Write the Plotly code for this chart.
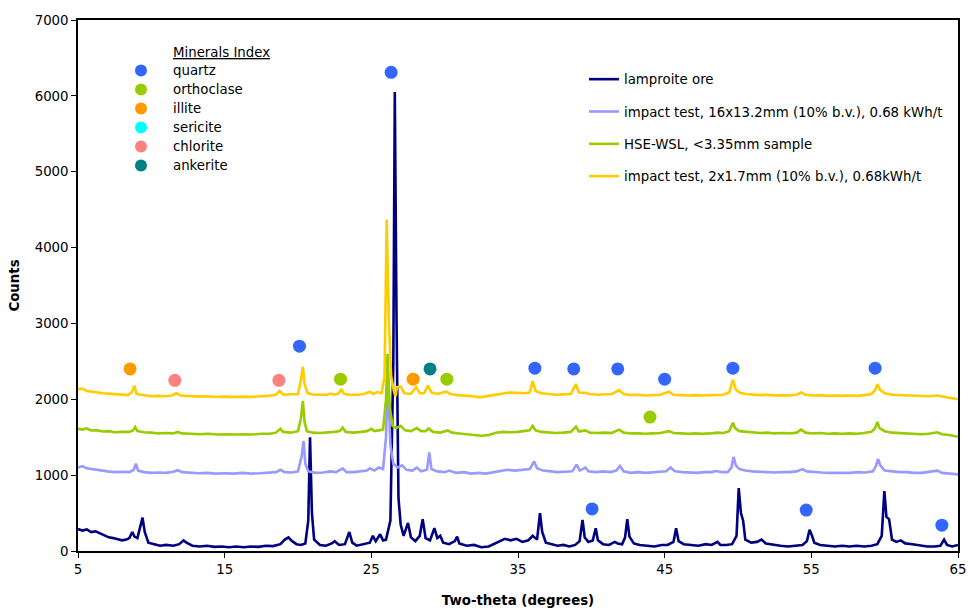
import plotly.graph_objects as go

# ---------------- data ----------------
LAMPROITE_ORE = [
    (5.0, 290), (5.3, 270), (5.6, 285), (5.9, 250), (6.2, 260), (6.5, 230), (6.8, 200), (7.1, 180),
    (7.4, 170), (7.7, 150), (8.0, 140), (8.3, 150), (8.5, 170), (8.7, 250), (8.85, 190), (9.05, 170),
    (9.3, 380), (9.4, 440), (9.55, 250), (9.8, 110), (10.2, 90), (10.6, 70), (11.0, 80), (11.5, 70),
    (11.9, 90), (12.2, 140), (12.4, 110), (12.8, 70), (13.3, 60), (13.8, 70), (14.3, 55), (14.8, 60),
    (15.3, 50), (15.8, 60), (16.3, 50), (16.8, 60), (17.3, 55), (17.8, 70), (18.3, 65), (18.8, 90),
    (19.1, 150), (19.35, 180), (19.6, 130), (19.9, 90), (20.2, 80), (20.5, 100), (20.7, 400), (20.82, 1500),
    (20.95, 500), (21.1, 150), (21.5, 80), (21.9, 70), (22.3, 100), (22.5, 130), (22.8, 80), (23.2, 90),
    (23.5, 250), (23.7, 110), (24.0, 70), (24.5, 90), (24.9, 110), (25.1, 200), (25.3, 130), (25.6, 220),
    (25.8, 140), (26.0, 150), (26.3, 400), (26.5, 2500), (26.6, 6050), (26.72, 3000), (26.85, 700), (27.0, 350),
    (27.2, 200), (27.5, 370), (27.7, 180), (28.0, 130), (28.3, 200), (28.5, 420), (28.7, 170), (29.0, 140),
    (29.3, 300), (29.5, 170), (29.7, 200), (29.9, 110), (30.3, 90), (30.7, 130), (30.85, 190), (31.0, 100),
    (31.5, 70), (32.0, 80), (32.5, 50), (33.0, 60), (33.5, 110), (33.8, 130), (34.1, 160), (34.5, 140),
    (34.9, 160), (35.3, 120), (35.7, 140), (36.0, 200), (36.3, 150), (36.5, 500), (36.65, 250), (36.9, 110),
    (37.3, 90), (37.7, 70), (38.1, 80), (38.5, 60), (38.9, 80), (39.2, 130), (39.4, 410), (39.55, 180),
    (39.8, 120), (40.1, 140), (40.3, 300), (40.45, 140), (40.8, 90), (41.2, 80), (41.6, 120), (41.8, 100),
    (42.1, 90), (42.3, 180), (42.45, 420), (42.6, 190), (42.9, 100), (43.3, 80), (43.8, 70), (44.3, 60),
    (44.8, 80), (45.2, 80), (45.6, 120), (45.78, 300), (45.95, 130), (46.3, 90), (46.8, 80), (47.3, 70),
    (47.8, 90), (48.2, 80), (48.6, 120), (48.8, 80), (49.2, 80), (49.6, 90), (49.9, 200), (50.05, 830),
    (50.2, 500), (50.35, 400), (50.5, 150), (50.9, 110), (51.3, 120), (51.6, 150), (51.9, 100), (52.4, 80),
    (52.9, 70), (53.4, 60), (53.9, 70), (54.4, 80), (54.7, 130), (54.88, 280), (55.05, 200), (55.2, 110),
    (55.6, 80), (56.1, 70), (56.6, 60), (57.1, 70), (57.6, 60), (58.1, 70), (58.6, 60), (59.1, 70),
    (59.5, 90), (59.8, 200), (59.98, 790), (60.12, 450), (60.3, 420), (60.5, 150), (60.8, 120), (61.1, 140),
    (61.4, 100), (61.9, 90), (62.4, 70), (62.9, 60), (63.4, 60), (63.8, 70), (64.05, 150), (64.25, 80),
    (64.6, 60), (65.0, 80),
]

IMPACT_16MM = [
    (5.0, 1100), (5.3, 1120), (5.6, 1090), (5.9, 1080), (6.2, 1070), (6.6, 1060), (7.0, 1050), (7.5, 1040),
    (8.0, 1045), (8.5, 1040), (8.8, 1070), (8.95, 1150), (9.1, 1060), (9.5, 1040), (10.0, 1030), (10.5, 1035),
    (11.0, 1030), (11.5, 1045), (11.8, 1065), (12.1, 1040), (12.6, 1030), (13.2, 1025), (13.8, 1030), (14.4, 1020),
    (15.0, 1025), (15.6, 1020), (16.2, 1030), (16.8, 1020), (17.4, 1025), (18.0, 1030), (18.5, 1040), (18.8, 1070),
    (19.1, 1040), (19.6, 1035), (20.0, 1050), (20.25, 1250), (20.38, 1450), (20.5, 1150), (20.7, 1050), (21.2, 1030),
    (21.7, 1035), (22.2, 1050), (22.6, 1040), (23.05, 1090), (23.3, 1040), (23.8, 1040), (24.3, 1050), (24.7, 1060),
    (24.9, 1090), (25.2, 1060), (25.5, 1100), (25.8, 1080), (26.0, 1500), (26.12, 2300), (26.3, 1400), (26.5, 1150),
    (26.8, 1100), (27.1, 1130), (27.4, 1070), (27.8, 1060), (28.1, 1100), (28.4, 1050), (28.8, 1070), (28.95, 1300),
    (29.1, 1080), (29.5, 1050), (30.0, 1040), (30.3, 1060), (30.8, 1030), (31.3, 1040), (31.8, 1020), (32.3, 1030),
    (32.8, 1020), (33.3, 1040), (33.8, 1060), (34.3, 1070), (34.8, 1060), (35.3, 1070), (35.8, 1080), (36.1, 1180),
    (36.3, 1090), (36.7, 1060), (37.2, 1050), (37.7, 1040), (38.2, 1045), (38.7, 1050), (39.0, 1140), (39.2, 1060),
    (39.6, 1100), (39.8, 1050), (40.3, 1040), (40.8, 1050), (41.3, 1040), (41.7, 1060), (41.95, 1120), (42.2, 1050),
    (42.7, 1030), (43.2, 1040), (43.7, 1030), (44.2, 1035), (44.7, 1040), (45.1, 1050), (45.4, 1100), (45.7, 1050),
    (46.2, 1040), (46.7, 1035), (47.2, 1030), (47.7, 1040), (48.2, 1040), (48.5, 1055), (48.9, 1040), (49.3, 1040),
    (49.55, 1100), (49.7, 1240), (49.85, 1130), (50.1, 1080), (50.5, 1060), (51.0, 1050), (51.5, 1045), (52.0, 1040),
    (52.5, 1035), (53.0, 1040), (53.5, 1040), (54.0, 1050), (54.4, 1080), (54.7, 1050), (55.2, 1040), (55.7, 1035),
    (56.2, 1030), (56.7, 1030), (57.2, 1035), (57.7, 1030), (58.2, 1040), (58.7, 1035), (59.2, 1050), (59.4, 1120),
    (59.55, 1215), (59.7, 1130), (60.0, 1060), (60.5, 1050), (61.0, 1040), (61.5, 1040), (62.0, 1030), (62.5, 1030),
    (63.0, 1040), (63.6, 1060), (63.9, 1030), (64.4, 1020), (65.0, 1010),
]

HSE_WSL = [
    (5.0, 1610), (5.3, 1600), (5.6, 1615), (5.9, 1590), (6.3, 1590), (6.7, 1575), (7.1, 1580), (7.5, 1565),
    (8.0, 1570), (8.5, 1570), (8.75, 1590), (8.9, 1635), (9.05, 1580), (9.5, 1565), (10.0, 1560), (10.5, 1550),
    (11.0, 1555), (11.5, 1550), (11.8, 1570), (12.1, 1550), (12.7, 1545), (13.3, 1540), (13.9, 1545), (14.5, 1535),
    (15.1, 1540), (15.7, 1535), (16.3, 1540), (16.9, 1535), (17.5, 1545), (18.1, 1545), (18.5, 1560), (18.8, 1610),
    (19.0, 1570), (19.5, 1560), (20.0, 1580), (20.2, 1750), (20.33, 1980), (20.45, 1700), (20.6, 1580), (21.0, 1560),
    (21.5, 1555), (22.0, 1560), (22.5, 1570), (22.85, 1580), (23.05, 1625), (23.25, 1570), (23.8, 1560), (24.3, 1570),
    (24.7, 1580), (25.0, 1610), (25.2, 1580), (25.5, 1590), (25.8, 1600), (26.0, 2000), (26.1, 2600), (26.25, 1900),
    (26.45, 1650), (26.7, 1620), (27.0, 1650), (27.3, 1590), (27.7, 1580), (28.1, 1620), (28.4, 1580), (28.7, 1580),
    (28.9, 1615), (29.2, 1570), (29.7, 1560), (30.2, 1590), (30.5, 1560), (31.0, 1550), (31.5, 1540), (32.0, 1530),
    (32.5, 1520), (33.0, 1530), (33.5, 1560), (34.0, 1570), (34.5, 1565), (35.0, 1570), (35.5, 1580), (35.8, 1590),
    (36.0, 1650), (36.2, 1590), (36.6, 1570), (37.1, 1560), (37.6, 1555), (38.1, 1560), (38.6, 1570), (38.95, 1640),
    (39.15, 1575), (39.6, 1590), (39.9, 1560), (40.4, 1555), (40.9, 1560), (41.4, 1555), (41.9, 1600), (42.2, 1560),
    (42.7, 1550), (43.2, 1550), (43.7, 1545), (44.2, 1550), (44.7, 1555), (45.3, 1580), (45.6, 1555), (46.1, 1550),
    (46.6, 1545), (47.1, 1550), (47.6, 1545), (48.1, 1550), (48.6, 1560), (49.0, 1555), (49.4, 1580), (49.65, 1690),
    (49.8, 1620), (50.1, 1580), (50.5, 1570), (51.0, 1560), (51.5, 1555), (52.0, 1560), (52.5, 1550), (53.0, 1555),
    (53.5, 1550), (54.0, 1560), (54.3, 1600), (54.6, 1560), (55.1, 1550), (55.6, 1555), (56.1, 1545), (56.6, 1550),
    (57.1, 1545), (57.6, 1550), (58.1, 1545), (58.6, 1555), (59.1, 1570), (59.35, 1620), (59.5, 1700), (59.65, 1620),
    (60.0, 1580), (60.5, 1560), (61.0, 1555), (61.5, 1550), (62.0, 1545), (62.5, 1540), (63.0, 1545), (63.6, 1565),
    (63.9, 1540), (64.4, 1530), (65.0, 1505),
]

IMPACT_2MM = [
    (5.0, 2130), (5.3, 2140), (5.6, 2110), (5.9, 2100), (6.3, 2095), (6.7, 2080), (7.1, 2075), (7.5, 2070),
    (8.0, 2060), (8.4, 2055), (8.7, 2100), (8.84, 2180), (9.0, 2070), (9.5, 2050), (10.0, 2040), (10.5, 2045),
    (11.0, 2040), (11.4, 2050), (11.7, 2080), (12.0, 2050), (12.6, 2040), (13.2, 2035), (13.8, 2040), (14.4, 2030),
    (15.0, 2035), (15.6, 2030), (16.2, 2035), (16.8, 2030), (17.4, 2040), (18.0, 2045), (18.5, 2060), (18.75, 2110),
    (19.0, 2060), (19.5, 2060), (20.0, 2070), (20.2, 2250), (20.33, 2430), (20.45, 2200), (20.65, 2080), (21.1, 2060),
    (21.6, 2055), (22.0, 2060), (22.2, 2075), (22.5, 2060), (22.8, 2080), (22.95, 2135), (23.15, 2070), (23.6, 2060),
    (24.1, 2060), (24.5, 2070), (24.9, 2100), (25.15, 2070), (25.4, 2095), (25.7, 2080), (25.9, 2300), (26.05, 4370),
    (26.2, 3000), (26.35, 2300), (26.55, 2100), (26.65, 2040), (26.75, 2160), (27.0, 2170), (27.25, 2080), (27.7, 2070),
    (28.05, 2160), (28.3, 2080), (28.6, 2080), (28.86, 2180), (29.1, 2090), (29.5, 2070), (30.1, 2100), (30.4, 2070),
    (30.9, 2055), (31.4, 2050), (31.9, 2040), (32.4, 2025), (32.9, 2040), (33.4, 2060), (33.9, 2080), (34.4, 2090),
    (34.9, 2085), (35.4, 2080), (35.8, 2090), (36.0, 2240), (36.2, 2110), (36.6, 2080), (37.1, 2070), (37.6, 2060),
    (38.1, 2065), (38.6, 2070), (38.95, 2200), (39.15, 2090), (39.6, 2085), (39.9, 2070), (40.4, 2060), (40.9, 2060),
    (41.4, 2070), (41.9, 2120), (42.2, 2070), (42.7, 2055), (43.2, 2060), (43.7, 2050), (44.2, 2055), (44.7, 2060),
    (45.3, 2100), (45.6, 2060), (46.1, 2055), (46.6, 2050), (47.1, 2055), (47.6, 2050), (48.1, 2055), (48.6, 2060),
    (49.0, 2060), (49.4, 2090), (49.65, 2255), (49.85, 2130), (50.1, 2090), (50.5, 2070), (51.0, 2060), (51.5, 2055),
    (52.0, 2060), (52.5, 2050), (53.0, 2055), (53.5, 2050), (54.0, 2060), (54.3, 2090), (54.6, 2060), (55.1, 2050),
    (55.6, 2055), (56.1, 2045), (56.6, 2050), (57.1, 2045), (57.6, 2050), (58.1, 2045), (58.6, 2055), (59.1, 2070),
    (59.35, 2120), (59.5, 2200), (59.7, 2120), (60.0, 2080), (60.5, 2060), (61.0, 2055), (61.5, 2050), (62.0, 2045),
    (62.5, 2040), (63.0, 2040), (63.6, 2050), (63.9, 2035), (64.4, 2020), (65.0, 2000),
]

SERIES_NAMES = [
    "lamproite ore",
    "impact test, 16x13.2mm (10% b.v.), 0.68 kWh/t",
    "HSE-WSL, <3.35mm sample",
    "impact test, 2x1.7mm (10% b.v.), 0.68kWh/t",
]
SERIES_COLORS = ["#000080", "#9999FF", "#99CC00", "#FFCC00"]

MINERALS = ["quartz", "orthoclase", "illite", "sericite", "chlorite", "ankerite"]
MINERAL_COLORS = ["#3366FF", "#99CC00", "#FF9900", "#00FFFF", "#FF8080", "#008080"]
quartz_x = [26.35, 20.1, 36.15, 38.8, 41.8, 45.0, 49.65, 59.35, 40.05, 54.65, 63.9]
quartz_y = [6310, 2700, 2410, 2400, 2400, 2265, 2410, 2410, 555, 540, 340]
orthoclase_x = [22.9, 30.15, 44.0]
orthoclase_y = [2265, 2265, 1765]
illite_x = [8.55, 27.85]
illite_y = [2400, 2265]
sericite_x = [None]
sericite_y = [None]
chlorite_x = [11.6, 18.7]
chlorite_y = [2250, 2250]
ankerite_x = [29.0]
ankerite_y = [2400]
MINERAL_X = [quartz_x, orthoclase_x, illite_x, sericite_x, chlorite_x, ankerite_x]
MINERAL_Y = [quartz_y, orthoclase_y, illite_y, sericite_y, chlorite_y, ankerite_y]

X_TICKS = [5, 15, 25, 35, 45, 55, 65]
Y_TICKS = [0, 1000, 2000, 3000, 4000, 5000, 6000, 7000]

FONT = "Verdana, DejaVu Sans, sans-serif"
FS = 13.33

FIG_W, FIG_H = 968, 608
# plot-area edges in window pixels
PL, PR, PT, PB = 78, 958, 20, 551
PW, PH = PR - PL, PB - PT


def px_x(px):
    return (px - PL) / PW


def px_y(py):
    return (PB - py) / PH


# ---------------- figure ----------------
fig = go.Figure()

for i, (data, name, color) in enumerate(
    zip([LAMPROITE_ORE, IMPACT_16MM, HSE_WSL, IMPACT_2MM], SERIES_NAMES, SERIES_COLORS)
):
    xs = [p[0] for p in data]
    ys = [p[1] for p in data]
    fig.add_trace(go.Scatter(
        x=xs, y=ys, mode="lines", name=name,
        line=dict(color=color, width=2.6),
        legend="legend", legendgroup=f"s{i}",
    ))

for name, color, mx, my in zip(MINERALS, MINERAL_COLORS, MINERAL_X, MINERAL_Y):
    fig.add_trace(go.Scatter(
        x=mx, y=my, mode="markers",
        name=f'<span style="font-size:{FS}px">{name}</span>',
        marker=dict(color=color, size=13, line=dict(width=0)),
        legend="legend2",
    ))

fig.update_layout(
    width=FIG_W, height=FIG_H,
    margin=dict(l=PL, r=FIG_W - PR, t=PT, b=FIG_H - PB, autoexpand=False),
    paper_bgcolor="white", plot_bgcolor="white",
    font=dict(family=FONT, size=FS, color="#000000"),
    showlegend=True,
    legend=dict(
        x=px_x(584), y=px_y(64), xanchor="left", yanchor="top",
        bgcolor="rgba(0,0,0,0)", borderwidth=0,
        tracegroupgap=12, font=dict(size=FS, family=FONT),
    ),
    legend2=dict(
        x=px_x(109), y=px_y(56), xanchor="left", yanchor="top",
        bgcolor="rgba(0,0,0,0)", borderwidth=0,
        itemwidth=54, tracegroupgap=0, font=dict(size=11.1, family=FONT),
        itemsizing="constant",
    ),
    annotations=[dict(
        text="<u>Minerals Index</u>", xref="paper", yref="paper",
        x=px_x(171), y=px_y(53), xanchor="left", yanchor="middle",
        showarrow=False, font=dict(size=FS, family=FONT),
    )],
)

fig.update_xaxes(
    range=[5, 65], tickvals=X_TICKS, ticktext=[str(v) for v in X_TICKS],
    showgrid=False, zeroline=False, automargin=False,
    showline=True, linecolor="black", linewidth=1.5, mirror=True,
    ticks="outside", ticklen=5, tickcolor="black",
    tickfont=dict(size=FS, family=FONT),
    title=dict(text="<b>Two-theta (degrees)</b>", font=dict(size=FS, family=FONT), standoff=22),
)
fig.update_yaxes(
    range=[0, 7000], tickvals=Y_TICKS,
    showgrid=False, zeroline=False, automargin=False,
    showline=True, linecolor="black", linewidth=1.5, mirror=True,
    ticks="outside", ticklen=5, tickcolor="black",
    tickfont=dict(size=FS, family=FONT),
    title=dict(text="<b>Counts</b>", font=dict(size=FS, family=FONT), standoff=12),
)

# remove the browser's default 8px body margin so the 968x608 figure fills the window
fig.write_html(
    "out.html",
    config={"displayModeBar": False},
    post_script="document.body.style.margin='0';document.body.style.overflow='hidden';",
)
